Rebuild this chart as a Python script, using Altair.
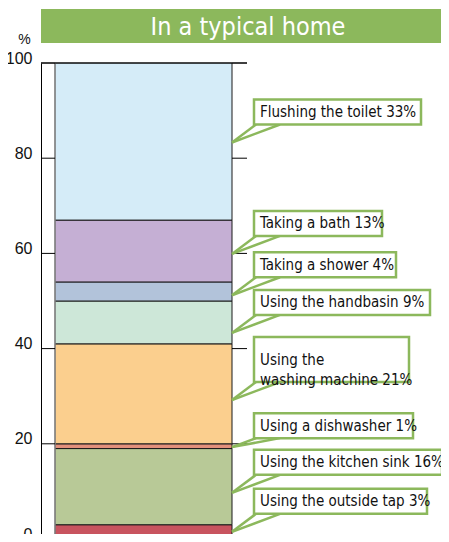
import altair as alt
import pandas as pd

# ---- data (bottom to top of the stacked bar) ----
uses = ["Using the outside tap", "Using the kitchen sink", "Using a dishwasher",
        "Using the\nwashing machine", "Using the handbasin", "Taking a shower",
        "Taking a bath", "Flushing the toilet"]
shares = [3, 16, 1, 21, 9, 4, 13, 33]
colors = ["#c8545f", "#b8c997", "#e3907c", "#fbcf8e", "#cde7d8", "#b2c3da",
          "#c5afd4", "#d5ecf8"]
y_ticks = [0, 20, 40, 60, 80, 100]
title_text = "In a typical home"

# ---- layout (pixels / annotation placement) ----
W, H = 400, 471          # drawn area (svg stays inside the 449x542 window)
YR = 476                 # pixel span of 0..100 (bottom few px fall below the window)
K = YR / 100.0
BAR_L, BAR_R, TICK_R = 14, 191, 206
BOX_L = 213
pointer_at = [1.5, 9.7, 19.3, 29.2, 43.3, 51.2, 59.9, 83.3]
box_w = [173, 188, 159, 155, 176, 142, 128, 167]
box_h = [25, 25, 25, 45, 25, 25, 25, 25]
box_gap = [18, 18, 9, 18, 18, 18, 18, 18]
GREEN = "#8cb85c"
FONT_N = "DejaVu Sans Condensed, Liberation Sans Narrow, sans-serif"
FONT_A = "Liberation Sans, Arial, sans-serif"

ends = pd.Series(shares).cumsum()
bar = pd.DataFrame({
    "use": uses, "share": shares, "color": colors,
    "start": ends - pd.Series(shares), "end": ends,
})

lab = pd.DataFrame({
    "text": [f"{u} {s}%" for u, s in zip(uses, shares)],
    "ptr": pointer_at, "w": box_w, "h": box_h, "gap": box_gap,
})
lab["bot"] = lab["ptr"] + lab["gap"] / K
lab["top"] = lab["ptr"] + (lab["gap"] + lab["h"]) / K
lab["mid"] = lab["ptr"] + (lab["gap"] + lab["h"] / 2) / K
lab["x0"] = BOX_L
lab["x1"] = BOX_L + lab["w"]
lab["tx"] = BOX_L + 6
lab["t1"] = BOX_L + 2
lab["t2"] = BOX_L + 26
lab["bar_r"] = BAR_R

yscale = alt.Scale(domain=[0, 100], range=[YR, 0], nice=False, zero=False)
yaxis = alt.Axis(values=y_ticks, ticks=False, grid=False, domainColor="#000",
                 domainWidth=1, labelFont=FONT_A,
                 labelFontSize=16, labelColor="#111", labelPadding=9,
                 labelBaseline="alphabetic",
                 title="%", titleAngle=0, titleX=-17, titleY=-20,
                 titleAlign="center", titleBaseline="alphabetic",
                 titleFont=FONT_A,
                 titleFontSize=14, titleFontWeight="normal", titleColor="#111")

base_bar = alt.Chart(bar)
segments = base_bar.mark_bar(stroke="#1a1a1a", strokeWidth=1).encode(
    x=alt.value(BAR_L), x2=alt.value(BAR_R),
    y=alt.Y("start:Q", scale=yscale, axis=yaxis), y2="end:Q",
    color=alt.Color("color:N", scale=None),
)

left_edge = alt.Chart(pd.DataFrame({"a": [0], "b": [100]})).mark_rule(
    color="#9a9a9a", strokeWidth=1.2).encode(
    x=alt.value(BAR_L), y=alt.Y("a:Q", scale=yscale), y2="b:Q")

ticks_df = pd.DataFrame({"v": y_ticks})
left_ticks = alt.Chart(ticks_df).mark_rule(color="#000", strokeWidth=1).encode(
    x=alt.value(0), x2=alt.value(BAR_L), y=alt.Y("v:Q", scale=yscale))
right_ticks = alt.Chart(ticks_df).mark_rule(color="#000", strokeWidth=1).encode(
    x=alt.value(BAR_R), x2=alt.value(TICK_R), y=alt.Y("v:Q", scale=yscale))
top_line = alt.Chart(pd.DataFrame({"v": [100]})).mark_rule(
    color="#000", strokeWidth=1).encode(
    x=alt.value(0), x2=alt.value(TICK_R), y=alt.Y("v:Q", scale=yscale))

lc = alt.Chart(lab)
tail1 = lc.mark_rule(color=GREEN, strokeWidth=2.5).encode(
    x=alt.X("bar_r:Q", scale=None, axis=None), x2="t1:Q",
    y=alt.Y("ptr:Q", scale=yscale), y2="bot:Q")
tail2 = lc.mark_rule(color=GREEN, strokeWidth=2.5).encode(
    x=alt.X("bar_r:Q", scale=None, axis=None), x2="t2:Q",
    y=alt.Y("ptr:Q", scale=yscale), y2="bot:Q")
boxes = lc.mark_rect(fill="white", stroke=GREEN, strokeWidth=2.5).encode(
    x=alt.X("x0:Q", scale=None, axis=None), x2="x1:Q",
    y=alt.Y("bot:Q", scale=yscale), y2="top:Q")
texts = lc.mark_text(align="left", baseline="middle", font=FONT_N,
                     fontSize=15, color="#111", lineBreak="\n",
                     lineHeight=20).encode(
    x=alt.X("tx:Q", scale=None, axis=None),
    y=alt.Y("mid:Q", scale=yscale),
    text="text:N")

tdf = pd.DataFrame({"t": [title_text]})
banner = alt.Chart(tdf).mark_rect(fill=GREEN).encode(
    x=alt.value(0), x2=alt.value(W + 10), y=alt.value(-54), y2=alt.value(-20))
banner_text = alt.Chart(tdf).mark_text(
    font=FONT_N, fontSize=25, color="white", align="center",
    baseline="alphabetic").encode(
    x=alt.value(207), y=alt.value(-28), text="t:N")

chart = alt.layer(
    segments, left_edge, left_ticks, right_ticks, top_line,
    tail1, tail2, boxes, texts, banner, banner_text,
).properties(
    width=W, height=H, background="white",
    autosize=alt.AutoSizeParams(type="none"),
    padding={"left": 33, "top": 55, "right": 0, "bottom": 0},
).configure_view(strokeWidth=0, stroke="transparent")

chart.save("out.html", embed_options={"renderer": "svg", "actions": False})
